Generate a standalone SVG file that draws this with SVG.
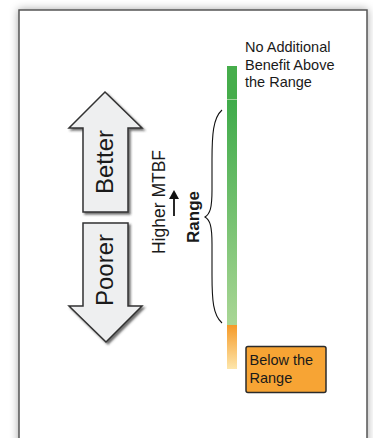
<svg xmlns="http://www.w3.org/2000/svg" width="373" height="438" viewBox="0 0 373 438">
<style>
text{font-family:"Liberation Sans",Arial,sans-serif;fill:#1a1a1a}
.big{font-size:24px}
.lab{font-size:14.5px}
.arr{fill:#eeeff0;stroke:#333;stroke-width:1.5;stroke-linejoin:miter}
</style>
<defs>
<filter id="frameShadow" x="-10%" y="-10%" width="120%" height="120%">
<feDropShadow dx="0" dy="0" stdDeviation="4" flood-color="#000" flood-opacity="0.35"/>
</filter>
<filter id="arrShadow" x="-20%" y="-20%" width="140%" height="140%">
<feDropShadow dx="2" dy="2" stdDeviation="1" flood-color="#333" flood-opacity="0.7"/>
</filter>
<linearGradient id="gGreen" x1="0" y1="0" x2="0" y2="1">
<stop offset="0" stop-color="#3fab4a"/>
<stop offset="1" stop-color="#a9d695"/>
</linearGradient>
<linearGradient id="gOrange" x1="0" y1="0" x2="0" y2="1">
<stop offset="0" stop-color="#f59a28"/>
<stop offset="1" stop-color="#fde6ab"/>
</linearGradient>
<marker id="ah" markerWidth="9" markerHeight="10" refX="2" refY="5" orient="auto" markerUnits="userSpaceOnUse">
<path d="M0,0 L9,5 L0,10 Z" fill="#111"/>
</marker>
</defs>
<rect x="0" y="0" width="373" height="438" fill="#fff"/>
<g id="frame">
<rect x="19" y="10" width="348" height="440" fill="#fff" stroke="#555" stroke-width="1.5" filter="url(#frameShadow)"/>
</g>
<g id="better">
<path class="arr" filter="url(#arrShadow)" d="M105,92 L142,128 L128,128 L128,212 L83,212 L83,128 L69,128 Z"/>
<text class="big" transform="translate(113,162) rotate(-90)" text-anchor="middle">Better</text>
</g>
<g id="poorer">
<path class="arr" filter="url(#arrShadow)" d="M83,223 L128,223 L128,306 L142,306 L106,342 L69,306 L83,306 Z"/>
<text class="big" transform="translate(113,270) rotate(-90)" text-anchor="middle">Poorer</text>
</g>
<g id="mtbf">
<text transform="translate(165,202) rotate(-90)" text-anchor="middle" style="font-size:17.5px">Higher MTBF</text>
</g>
<g id="range-label">
<text transform="translate(199,217) rotate(-90)" text-anchor="middle" style="font-size:17px;font-weight:bold">Range</text>
</g>
<g id="bar">
<rect x="227" y="66" width="10" height="33" fill="#46ad4b"/>
<rect x="227" y="99" width="10" height="1" fill="#9fd49a"/>
<rect x="227" y="100" width="10" height="225" fill="url(#gGreen)"/>
<rect x="227" y="325" width="10" height="44" fill="url(#gOrange)"/>
</g>
<g id="above-label">
<text class="lab" x="245" y="52">No Additional</text>
<text class="lab" x="245" y="69.5">Benefit Above</text>
<text class="lab" x="245" y="87">the Range</text>
</g>
<g id="below">
<rect x="246" y="346.5" width="80" height="46" rx="2" fill="#f7a434" stroke="#2b2b2b" stroke-width="1.5"/>
<text class="lab" x="249.5" y="365">Below the</text>
<text class="lab" x="249.5" y="383">Range</text>
</g>
<g id="connectors" fill="none" stroke="#111">
<path d="M174,216 L174,197" stroke-width="1.8" marker-end="url(#ah)"/>
<path d="M222,110 C213,118 212,135 212,160 L212,190 C212,208 210,214 205,217 C210,220 212,226 212,244 L212,275 C212,300 213,315 222,323" stroke-width="1.1"/>
</g>
</svg>
